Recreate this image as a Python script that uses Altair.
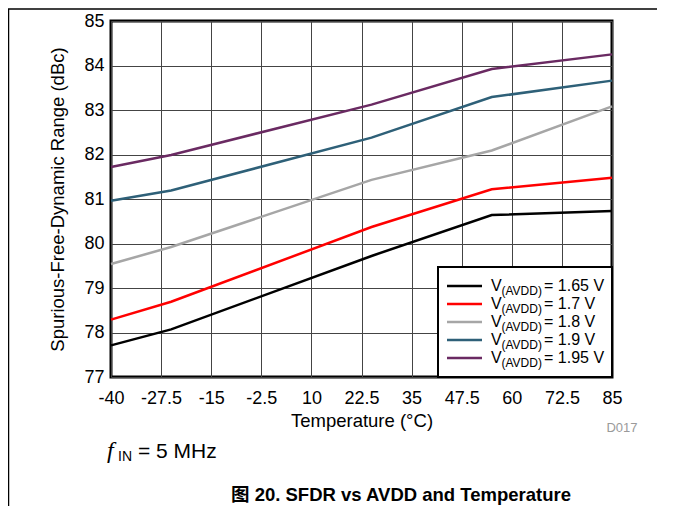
import altair as alt
import pandas as pd

temps = [-40, -25, 25, 55, 85]
sfdr_165 = [77.71, 78.07, 79.72, 80.64, 80.73]
sfdr_170 = [78.29, 78.69, 80.37, 81.22, 81.48]
sfdr_180 = [79.54, 79.92, 81.43, 82.09, 83.08]
sfdr_190 = [80.96, 81.19, 82.38, 83.29, 83.66]
sfdr_195 = [81.72, 81.99, 83.12, 83.92, 84.25]

series_names = ["1.65", "1.7", "1.8", "1.9", "1.95"]
series_vals = [sfdr_165, sfdr_170, sfdr_180, sfdr_190, sfdr_195]
colors = ["#000000", "#FF0000", "#A6A6A6", "#2E6078", "#6A2A62"]

x_ticks = [-40, -27.5, -15, -2.5, 10, 22.5, 35, 47.5, 60, 72.5, 85]
y_ticks = [77, 78, 79, 80, 81, 82, 83, 84, 85]

rows = []
for name, vals in zip(series_names, series_vals):
    for t, v in zip(temps, vals):
        rows.append({"T": t, "SFDR": v, "V": name})
df = pd.DataFrame(rows)

W, H = 501, 356
FONT = "Arial, Liberation Sans, sans-serif"
CAPFONT = "Arial, Liberation Sans, Noto Sans CJK SC, sans-serif"

lines = alt.Chart(df).mark_line(strokeWidth=2.5).encode(
    x=alt.X("T:Q", scale=alt.Scale(domain=[-40, 85], nice=False, zero=False),
            axis=alt.Axis(values=x_ticks, title="Temperature (°C)", grid=True,
                          labelExpr="datum.value", labelFlush=False, labelOverlap=False,
                          titlePadding=4)),
    y=alt.Y("SFDR:Q", scale=alt.Scale(domain=[77, 85], nice=False, zero=False),
            axis=alt.Axis(values=y_ticks, title="Spurious-Free-Dynamic Range (dBc)",
                          grid=True, labelFlush=False, labelOverlap=False,
                          titleX=-54, titleY=H / 2, titleBaseline="middle")),
    color=alt.Color("V:N", scale=alt.Scale(domain=series_names, range=colors), legend=None),
    detail="V:N",
)

layers = [lines]

# legend box
LX0, LX1, LY0, LY1 = 327, 501, 246, H
box = alt.Chart(pd.DataFrame({"a": [0]})).mark_rect(
    fill="white", stroke="black", strokeWidth=2).encode(
    x=alt.value(LX0), x2=alt.value(LX1), y=alt.value(LY0), y2=alt.value(LY1))
layers.append(box)

for i, (name, col) in enumerate(zip(series_names, colors)):
    yy = 265 + i * 18
    seg = alt.Chart(pd.DataFrame({"a": [0]})).mark_rule(color=col, strokeWidth=2.5).encode(
        x=alt.value(336), x2=alt.value(371), y=alt.value(yy))
    tv = alt.Chart(pd.DataFrame({"t": ["V"]})).mark_text(
        align="left", baseline="middle", fontSize=16, font=FONT).encode(
        x=alt.value(380), y=alt.value(yy), text="t:N")
    ts = alt.Chart(pd.DataFrame({"t": ["(AVDD)"]})).mark_text(
        align="left", baseline="middle", fontSize=12, font=FONT).encode(
        x=alt.value(390.5), y=alt.value(yy + 5), text="t:N")
    te = alt.Chart(pd.DataFrame({"t": [f"= {name} V"]})).mark_text(
        align="left", baseline="middle", fontSize=16, font=FONT).encode(
        x=alt.value(433), y=alt.value(yy), text="t:N")
    layers += [seg, tv, ts, te]

# annotations below the plot
d017 = alt.Chart(pd.DataFrame({"t": ["D017"]})).mark_text(
    align="center", baseline="middle", fontSize=13, font=FONT, color="#9A9A9A").encode(
    x=alt.value(511), y=alt.value(407), text="t:N")
f_ = alt.Chart(pd.DataFrame({"t": ["f"]})).mark_text(
    align="left", baseline="middle", fontSize=24, font="Liberation Serif",
    fontStyle="italic").encode(x=alt.value(-4), y=alt.value(430), text="t:N")
fin = alt.Chart(pd.DataFrame({"t": ["IN"]})).mark_text(
    align="left", baseline="middle", fontSize=14, font=FONT).encode(
    x=alt.value(7), y=alt.value(436), text="t:N")
feq = alt.Chart(pd.DataFrame({"t": ["= 5 MHz"]})).mark_text(
    align="left", baseline="middle", fontSize=21, font=FONT).encode(
    x=alt.value(27), y=alt.value(431), text="t:N")
cap = alt.Chart(pd.DataFrame({"t": ["图 20. SFDR vs AVDD and Temperature"]})).mark_text(
    align="center", baseline="alphabetic", fontSize=18.5, font=CAPFONT,
    fontWeight="bold").encode(x=alt.value(290), y=alt.value(480), text="t:N")

# document frame lines
frame_top = alt.Chart(pd.DataFrame({"a": [0]})).mark_rule(color="black", strokeWidth=1.5).encode(
    x=alt.value(-103), x2=alt.value(W + 45), y=alt.value(-12))
frame_left = alt.Chart(pd.DataFrame({"a": [0]})).mark_rule(color="black", strokeWidth=1.5).encode(
    x=alt.value(-102.5), y=alt.value(-12), y2=alt.value(H + 129))

layers += [d017, f_, fin, feq, cap, frame_top, frame_left]

chart = alt.layer(*layers).properties(
    width=W, height=H,
    autosize=alt.AutoSizeParams(type="none"),
    padding={"left": 103, "top": 13, "right": 45, "bottom": 129},
).configure_view(
    stroke="black", strokeWidth=3
).configure_axis(
    domain=False, ticks=False, gridColor="#444444", gridWidth=1, gridOpacity=1,
    labelFont=FONT, labelFontSize=18, labelColor="black",
    titleFont=FONT, titleFontSize=18.5, titleFontWeight="normal", titleColor="black",
).configure_axisX(labelPadding=12).configure_axisY(labelPadding=7)

chart.save("out.html", embed_options={"renderer": "svg", "actions": False})
